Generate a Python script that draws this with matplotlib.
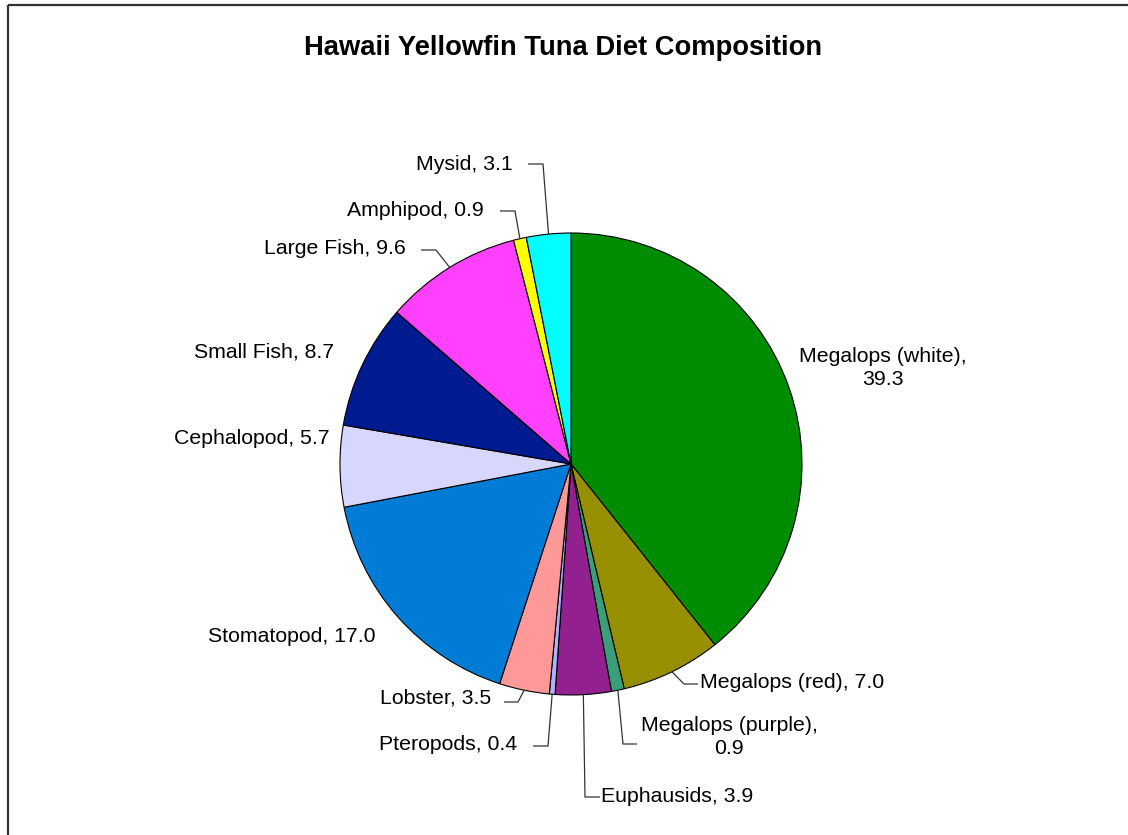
import numpy as np
import matplotlib
matplotlib.use("Agg")
import matplotlib.pyplot as plt

plt.rcParams['font.family'] = ['Liberation Sans', 'DejaVu Sans']

# diet categories, clockwise from 12 o'clock
prey = ["Megalops (white)", "Megalops (red)", "Megalops (purple)", "Euphausids",
        "Pteropods", "Lobster", "Stomatopod", "Cephalopod", "Small Fish",
        "Large Fish", "Amphipod", "Mysid"]
percent = [39.3, 7.0, 0.9, 3.9, 0.4, 3.5, 17.0, 5.7, 8.7, 9.6, 0.9, 3.1]
colours = ["#008C00", "#968F00", "#3A9E78", "#92208F", "#B0B0FF", "#FF9999",
           "#007CD6", "#D6D6FF", "#001A8F", "#FF40FF", "#FFFF00", "#00FFFF"]

W, H = 1128, 835


def py(y):
    # pixel row (top down) -> axis y
    return H - y


# label placement in pixels: text x, text y, alignment, elbow point, line end x
labels = {
    "Megalops (white)": (883, 368, "center", None, None, True),
    "Megalops (red)": (700, 683, "left", (684, 684), 698, False),
    "Megalops (purple)": (729, 737, "center", (623, 744), 637, True),
    "Euphausids": (601, 797, "left", (585, 797), 600, False),
    "Pteropods": (517, 744, "right", (548, 746), 533, False),
    "Lobster": (491, 698, "right", (518, 702), 504, False),
    "Stomatopod": (375, 636, "right", None, None, False),
    "Cephalopod": (330, 439, "right", None, None, False),
    "Small Fish": (334, 352, "right", None, None, False),
    "Large Fish": (406, 248, "right", (436, 250), 421, False),
    "Amphipod": (484, 210, "right", (515, 211), 500, False),
    "Mysid": (513, 164, "right", (543, 164), 528, False),
}

fig = plt.figure(figsize=(W / 100, H / 100), dpi=100)
ax = fig.add_axes([0, 0, 1, 1])

cx, cy, r = 571, py(464), 231
wedges, _ = ax.pie(percent, colors=colours, startangle=90, counterclock=False,
                   center=(cx, cy), radius=r, frame=True,
                   wedgeprops=dict(edgecolor="black", linewidth=0.8))
ax.set_xlim(0, W)
ax.set_ylim(0, H)
ax.set_aspect("equal")
ax.axis("off")

for w, name, val in zip(wedges, prey, percent):
    tx, ty, ha, elbow, endx, wrap = labels[name]
    sep = "\n" if wrap else " "
    ax.text(tx, py(ty), f"{name},{sep}{val:.1f}", ha=ha, va="center",
            fontsize=15.3, color="black", linespacing=1.25, multialignment="center")
    if elbow is not None:
        mid = np.deg2rad((w.theta1 + w.theta2) / 2)
        ax_ = cx + r * np.cos(mid)
        ay_ = cy + r * np.sin(mid)
        ax.plot([ax_, elbow[0], endx], [ay_, py(elbow[1]), py(elbow[1])],
                color="#333333", lw=0.9, solid_capstyle="butt")

fig.text(563 / W, 1 - 48 / H, "Hawaii Yellowfin Tuna Diet Composition",
         ha="center", va="center", fontsize=19.7, fontweight="bold")

# chart area frame, left and top edges
ax.plot([7.5, 7.5], [0, py(5)], color="#333333", lw=1.6, solid_capstyle="butt")
ax.plot([7.5, W], [py(5), py(5)], color="#333333", lw=1.6, solid_capstyle="butt")

fig.savefig("out.png", dpi=100, facecolor="white")
